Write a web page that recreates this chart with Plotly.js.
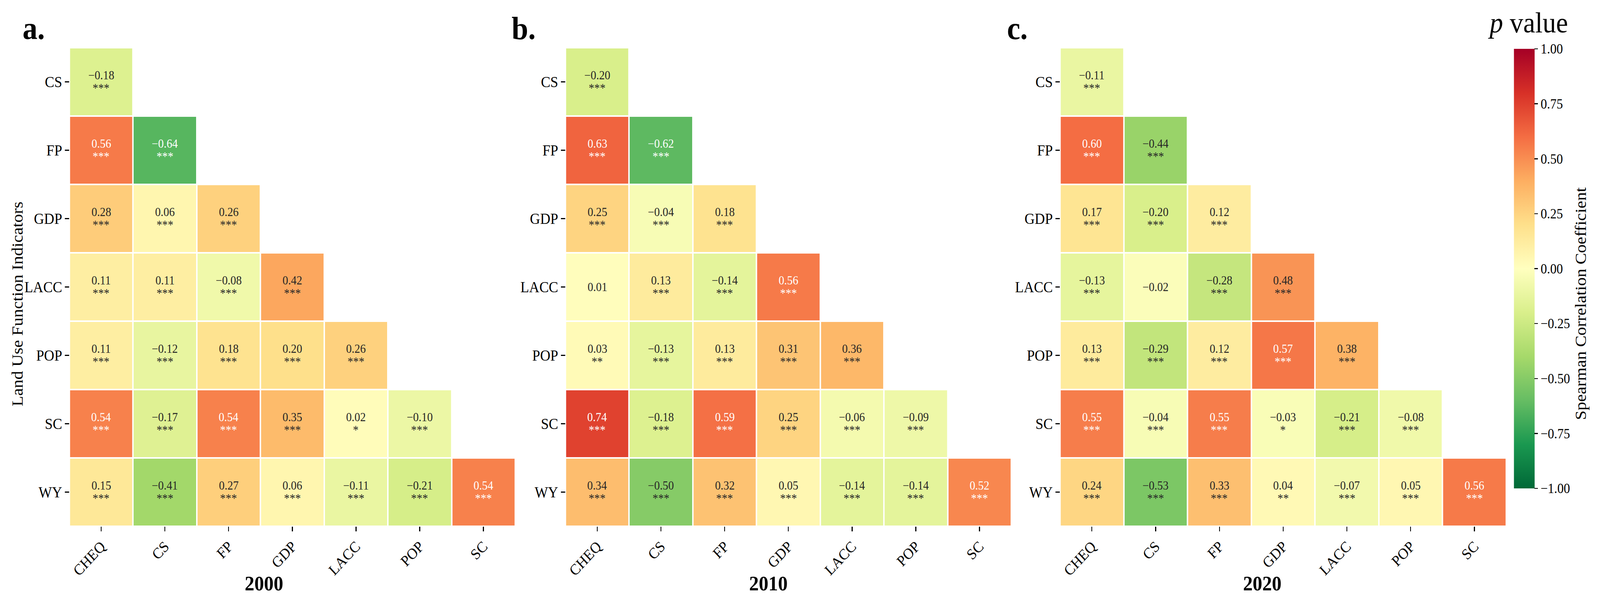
<!DOCTYPE html>
<html>
<head>
<meta charset="utf-8">
<script src="https://cdn.plot.ly/plotly-3.0.1.min.js"></script>
<style>html,body{margin:0;padding:0;background:#fff;overflow:hidden;}#chart{width:4406px;height:1551px;transform-origin:0 0;}</style>
</head>
<body>
<div id="chart"></div>
<script>
// ---------- DATA ----------
const rowLabels = ['CS', 'FP', 'GDP', 'LACC', 'POP', 'SC', 'WY'];
const colLabels = ['CHEQ', 'CS', 'FP', 'GDP', 'LACC', 'POP', 'SC'];
const years = ['2000', '2010', '2020'];
const panelLetters = ['a.', 'b.', 'c.'];

// lower-triangle Spearman coefficients, one row per rowLabel
const rho2000 = [
  [-0.18],
  [0.56, -0.64],
  [0.28, 0.06, 0.26],
  [0.11, 0.11, -0.08, 0.42],
  [0.11, -0.12, 0.18, 0.20, 0.26],
  [0.54, -0.17, 0.54, 0.35, 0.02, -0.10],
  [0.15, -0.41, 0.27, 0.06, -0.11, -0.21, 0.54]
];
const sig2000 = [
  ['***'],
  ['***', '***'],
  ['***', '***', '***'],
  ['***', '***', '***', '***'],
  ['***', '***', '***', '***', '***'],
  ['***', '***', '***', '***', '*', '***'],
  ['***', '***', '***', '***', '***', '***', '***']
];
const rho2010 = [
  [-0.20],
  [0.63, -0.62],
  [0.25, -0.04, 0.18],
  [0.01, 0.13, -0.14, 0.56],
  [0.03, -0.13, 0.13, 0.31, 0.36],
  [0.74, -0.18, 0.59, 0.25, -0.06, -0.09],
  [0.34, -0.50, 0.32, 0.05, -0.14, -0.14, 0.52]
];
const sig2010 = [
  ['***'],
  ['***', '***'],
  ['***', '***', '***'],
  ['', '***', '***', '***'],
  ['**', '***', '***', '***', '***'],
  ['***', '***', '***', '***', '***', '***'],
  ['***', '***', '***', '***', '***', '***', '***']
];
const rho2020 = [
  [-0.11],
  [0.60, -0.44],
  [0.17, -0.20, 0.12],
  [-0.13, -0.02, -0.28, 0.48],
  [0.13, -0.29, 0.12, 0.57, 0.38],
  [0.55, -0.04, 0.55, -0.03, -0.21, -0.08],
  [0.24, -0.53, 0.33, 0.04, -0.07, 0.05, 0.56]
];
const sig2020 = [
  ['***'],
  ['***', '***'],
  ['***', '***', '***'],
  ['***', '', '***', '***'],
  ['***', '***', '***', '***', '***'],
  ['***', '***', '***', '*', '***', '***'],
  ['***', '***', '***', '**', '***', '***', '***']
];
const cbTickVals = [1, 0.75, 0.5, 0.25, 0, -0.25, -0.5, -0.75, -1];
const cbTickText = ['1.00', '0.75', '0.50', '0.25', '0.00', '\u22120.25', '\u22120.50', '\u22120.75', '\u22121.00'];

// ---------- STYLE ----------
const W = 4406, H = 1551;
const FONT = 'Liberation Serif, Times New Roman, serif';
const rdylgnR = ['#006837', '#1a9850', '#66bd63', '#a6d96a', '#d9ef8b', '#ffffbf',
                 '#fee08b', '#fdae61', '#f46d43', '#d73027', '#a50026'];
const colorscale = rdylgnR.map((c, i) => [i / (rdylgnR.length - 1), c]);

function hexToRgb(h) { return [parseInt(h.substr(1, 2), 16), parseInt(h.substr(3, 2), 16), parseInt(h.substr(5, 2), 16)]; }
function colorAt(v) {
  let t = (v + 1) / 2; t = Math.max(0, Math.min(1, t));
  const n = rdylgnR.length - 1;
  const k = Math.min(n - 1, Math.floor(t * n));
  const f = t * n - k;
  const a = hexToRgb(rdylgnR[k]), b = hexToRgb(rdylgnR[k + 1]);
  return a.map((x, i) => x + (b[i] - x) * f);
}
function luminance(rgb) {
  const c = rgb.map(x => { x /= 255; return x <= 0.03928 ? x / 12.92 : Math.pow((x + 0.055) / 1.055, 2.4); });
  return 0.2126 * c[0] + 0.7152 * c[1] + 0.0722 * c[2];
}
function fmt(v) { return v.toFixed(2).replace('-', '\u2212'); }

const panelsPx = [[191, 1419], [1557, 2785], [2919, 4148]];
const yTopPx = 122, yBotPx = 1347;
const letterPx = [60, 1407, 2771];
const yearPx = [727, 2116, 3476];

const rhoSets = [rho2000, rho2010, rho2020];
const sigSets = [sig2000, sig2010, sig2020];

const data = [];
const annotations = [];
const layout = {
  width: W, height: H,
  margin: {l: 0, r: 0, t: 0, b: 0, pad: 0},
  paper_bgcolor: '#ffffff', plot_bgcolor: '#ffffff',
  font: {family: FONT, color: '#000000'},
  showlegend: false,
  annotations: annotations
};

rhoSets.forEach((rho, p) => {
  const z = rowLabels.map((r, i) => colLabels.map((c, j) => (j < rho[i].length ? rho[i][j] : null)));
  const sfx = p === 0 ? '' : String(p + 1);
  const trace = {
    type: 'heatmap',
    x: colLabels, y: rowLabels, z: z,
    xaxis: 'x' + sfx, yaxis: 'y' + sfx,
    colorscale: colorscale, zmin: -1, zmax: 1,
    xgap: 4, ygap: 4,
    hoverongaps: false,
    showscale: p === 2
  };
  if (p === 2) {
    trace.colorbar = {
      x: 4169 / W, xanchor: 'left', xref: 'paper',
      y: 1 - 687.5 / H, yanchor: 'middle', yref: 'paper',
      len: 1125, lenmode: 'pixels',
      thickness: 57, thicknessmode: 'pixels',
      xpad: 0, ypad: 0, outlinewidth: 0,
      ticks: 'outside', ticklen: 10, tickwidth: 2.5, tickcolor: '#000',
      tickvals: cbTickVals, ticktext: cbTickText,
      tickfont: {family: FONT, size: 35, color: '#000'}
    };
  }
  data.push(trace);

  layout['xaxis' + sfx] = {
    domain: [panelsPx[p][0] / W, panelsPx[p][1] / W],
    anchor: 'y' + sfx,
    type: 'category', categoryorder: 'array', categoryarray: colLabels,
    range: [-0.5, 6.5], fixedrange: true,
    showgrid: false, zeroline: false, showline: false,
    ticks: 'outside', ticklen: 12, tickwidth: 2.5, tickcolor: '#000',
    tickangle: -45,
    tickfont: {family: FONT, size: 39, color: '#000'}
  };
  layout['yaxis' + sfx] = {
    domain: [1 - yBotPx / H, 1 - yTopPx / H],
    anchor: 'x' + sfx,
    type: 'category', categoryorder: 'array', categoryarray: rowLabels,
    range: [6.5, -0.5], fixedrange: true,
    showgrid: false, zeroline: false, showline: false,
    ticks: 'outside', ticklen: 11, tickwidth: 2.5, tickcolor: '#000',
    tickfont: {family: FONT, size: 39, color: '#000'}
  };

  // cell annotations
  rho.forEach((row, i) => {
    row.forEach((v, j) => {
      const col = luminance(colorAt(v)) < 0.408 ? '#ffffff' : '#262626';
      const s = sigSets[p][i][j];
      annotations.push({
        xref: 'x' + sfx, yref: 'y' + sfx, x: colLabels[j], y: rowLabels[i],
        text: fmt(v), showarrow: false, yshift: s ? 17 : 0,
        font: {family: FONT, size: 31, color: col}
      });
      if (s) {
        annotations.push({
          xref: 'x' + sfx, yref: 'y' + sfx, x: colLabels[j], y: rowLabels[i],
          text: s, showarrow: false, yshift: -16,
          font: {family: FONT, size: 31, color: col}
        });
      }
    });
  });

  // panel letter
  annotations.push({
    xref: 'paper', yref: 'paper', x: letterPx[p] / W, y: 1 - 72 / H,
    xanchor: 'left', yanchor: 'middle', showarrow: false,
    text: '<b>' + panelLetters[p] + '</b>',
    font: {family: FONT, size: 82, color: '#000'}
  });
  // year label
  annotations.push({
    xref: 'paper', yref: 'paper', x: yearPx[p] / W, y: 1 - 1493 / H,
    xanchor: 'center', yanchor: 'middle', showarrow: false,
    text: '<b>' + years[p] + '</b>',
    font: {family: FONT, size: 53, color: '#000'}
  });
});

// y-axis title (panel a)
annotations.push({
  xref: 'paper', yref: 'paper', x: 47 / W, y: 1 - 778 / H,
  xanchor: 'center', yanchor: 'middle', showarrow: false, textangle: -90,
  text: 'Land Use Function Indicators',
  font: {family: FONT, size: 44, color: '#000'}
});
// colorbar label
annotations.push({
  xref: 'paper', yref: 'paper', x: 4352 / W, y: 1 - 778 / H,
  xanchor: 'center', yanchor: 'middle', showarrow: false, textangle: -90,
  text: 'Spearman Correlation Coefficient',
  font: {family: FONT, size: 44, color: '#000'}
});
// p value header
annotations.push({
  xref: 'paper', yref: 'paper', x: 4207 / W, y: 1 - 58 / H,
  xanchor: 'center', yanchor: 'middle', showarrow: false,
  text: '<i>p</i> value',
  font: {family: FONT, size: 74, color: '#000'}
});

// fit the fixed-size figure exactly into the actual viewport
const chartDiv = document.getElementById('chart');
const vw = window.innerWidth || W, vh = window.innerHeight || H;
const sx = vw / W, sy = vh / H;
if (Math.abs(sx - 1) > 0.002 || Math.abs(sy - 1) > 0.002) {
  chartDiv.style.transform = 'scale(' + sx + ',' + sy + ')';
}

Plotly.newPlot('chart', data, layout, {staticPlot: true, displayModeBar: false});
</script>
</body>
</html>
